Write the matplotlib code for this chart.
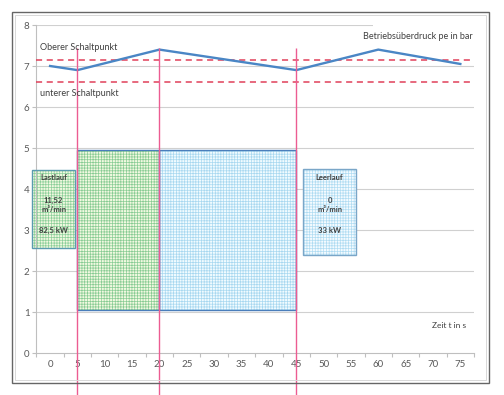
import matplotlib.pyplot as plt
from matplotlib.patches import Rectangle

# pressure curve (bar)
times = [0, 5, 20, 45, 60, 75]
pressure = [7.0, 6.9, 7.4, 6.9, 7.4, 7.05]
p_upper = 7.15
p_lower = 6.6
switch_times = [5, 20, 45]
x_ticks = list(range(0, 80, 5))

# load / idle blocks: (start, end, bottom, top)
load_block = (5, 20, 1.05, 4.95)
idle_block = (20, 45, 1.05, 4.95)

load_lines = ["Lastlauf", "", "11,52", "m³/min", "", "82,5 kW"]
idle_lines = ["Leerlauf", "", "0", "m³/min", "", "33 kW"]

plt.rcParams['font.family'] = ['Lato', 'DejaVu Sans']
plt.rcParams['hatch.linewidth'] = 0.5

fig = plt.figure(figsize=(5.04, 3.95), dpi=100)
ax = fig.add_axes([0.0722, 0.1063, 0.8683, 0.8304])

grey = '#595959'
ax.set_xlim(-2.5, 77.5)
ax.set_ylim(0, 8)
for y in range(1, 9):
    ax.axhline(y, color='#d0d0d0', lw=0.8, zorder=0)

for s in ['top', 'right']:
    ax.spines[s].set_visible(False)
for s in ['left', 'bottom']:
    ax.spines[s].set_color('#bfbfbf')

ax.set_yticks(range(0, 9))
ax.tick_params(axis='y', length=3, color='#bfbfbf', labelsize=7, labelcolor=grey, pad=2)
ax.set_xticks([x - 2.5 for x in x_ticks] + [77.5])
ax.set_xticklabels([])
ax.set_xticks(x_ticks, minor=True)
ax.set_xticklabels([str(x) for x in x_ticks], minor=True)
ax.tick_params(axis='x', which='major', length=3, color='#bfbfbf')
ax.tick_params(axis='x', which='minor', length=0, labelsize=7, labelcolor=grey, pad=5)


def hatched_box(x0, x1, y0, y1, face, hatch_col, edge):
    ax.add_patch(Rectangle((x0, y0), x1 - x0, y1 - y0, facecolor=face,
                           edgecolor=hatch_col, hatch='++++++', lw=0, zorder=2,
                           clip_on=False))
    ax.add_patch(Rectangle((x0, y0), x1 - x0, y1 - y0, facecolor='none',
                           edgecolor=edge, lw=1.0, zorder=3, clip_on=False))


x0, x1, y0, y1 = load_block
hatched_box(x0, x1, y0, y1, '#f1f9e0', '#88cc94', '#4a7ebb')
x0, x1, y0, y1 = idle_block
hatched_box(x0, x1, y0, y1, '#f0fbff', '#a8d8f0', '#4a7ebb')

# info boxes
hatched_box(-3.3, 4.57, 2.56, 4.46, '#f1f9e0', '#8ccf9a', '#5b9bb0')
hatched_box(46.3, 55.9, 2.39, 4.48, '#f4fbff', '#b0dcf2', '#7aa6c8')
line_y = [4.27, 4.0, 3.73, 3.49, 3.25, 3.0]
for txt, y in zip(load_lines, line_y):
    ax.text(0.63, y, txt, ha='center', va='center', fontsize=5.5,
            fontweight='bold', color='#404040', zorder=4, clip_on=False)
for txt, y in zip(idle_lines, line_y):
    ax.text(51.1, y, txt, ha='center', va='center', fontsize=5.5,
            fontweight='bold', color='#404040', zorder=4)

# switching points
ax.axhline(p_upper, color='#e0405a', lw=1.1, ls=(0, (4, 3)), zorder=4)
ax.axhline(p_lower, color='#e0405a', lw=1.1, ls=(0, (4, 3)), zorder=4)
ax.plot(times, pressure, color='#4a86c5', lw=1.7, zorder=5)
ax.vlines(switch_times, -1.05, 7.45, color='#ec5c92', lw=1.0, zorder=6, clip_on=False)

ax.add_patch(Rectangle((59.0, 7.55), 18.5, 0.55, facecolor='white', edgecolor='none',
                       zorder=1, clip_on=False))
ax.text(77.3, 7.73, "Betriebsüberdruck pe in bar", ha='right', va='center',
        fontsize=6.5, color='#404040', zorder=6)
ax.text(-1.84, 7.46, "Oberer Schaltpunkt", ha='left', va='center',
        fontsize=6.5, color='#404040', zorder=6)
ax.text(-1.84, 6.34, "unterer Schaltpunkt", ha='left', va='center',
        fontsize=6.5, color='#404040', zorder=6)
ax.text(69.9, 0.66, "Zeit t in s", ha='left', va='center',
        fontsize=6, color='#404040', zorder=6)

# chart frame
fig.patches.append(Rectangle((12 / 504, 1 - 383 / 395), 477 / 504, 371 / 395,
                             transform=fig.transFigure, fill=False,
                             edgecolor='#666666', lw=1.0))
fig.patches.append(Rectangle((15 / 504, 1 - 380 / 395), 471 / 504, 365 / 395,
                             transform=fig.transFigure, fill=False,
                             edgecolor='#d8d8d8', lw=0.7))

fig.savefig('out.png', dpi=100)
